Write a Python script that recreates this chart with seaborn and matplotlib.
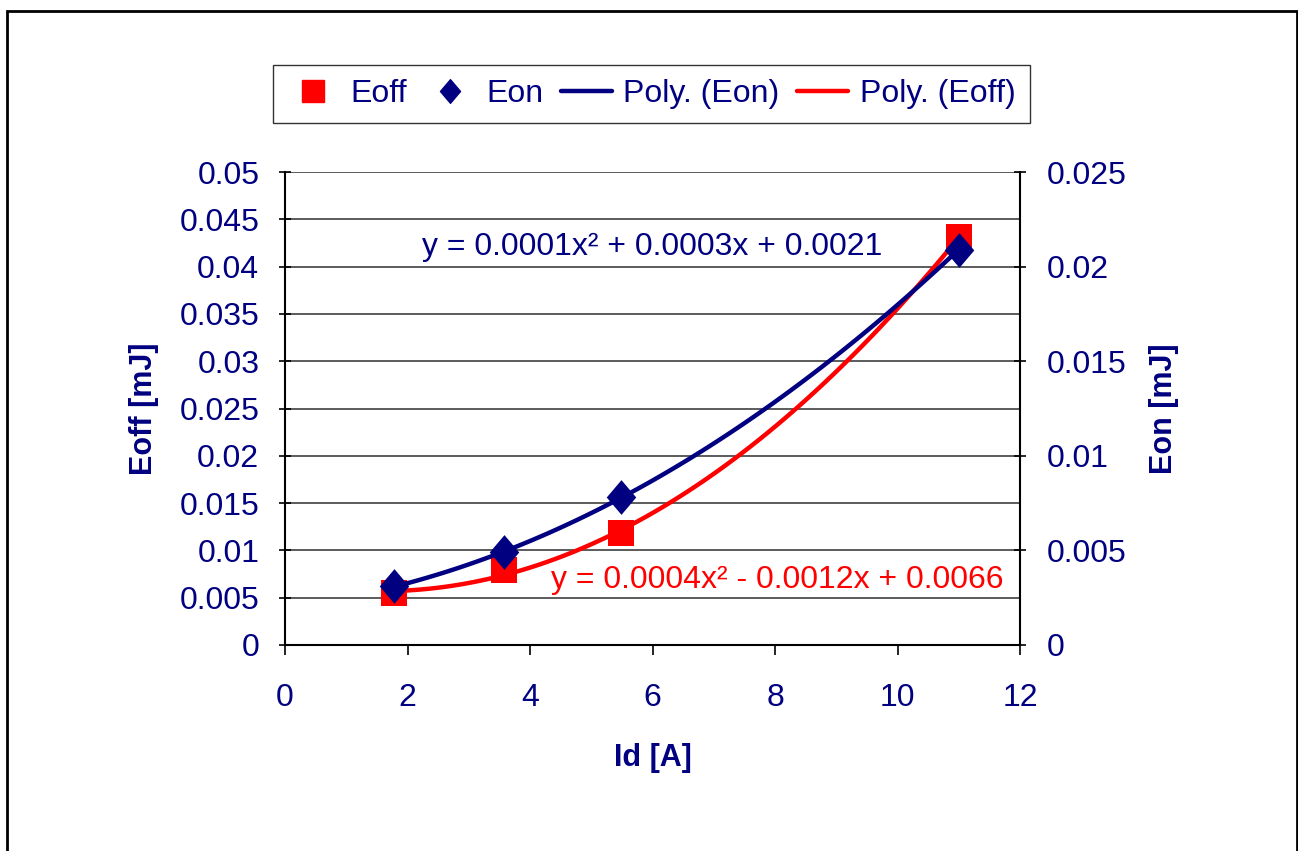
import numpy as np
import pandas as pd
import matplotlib
matplotlib.use("Agg")
import matplotlib.pyplot as plt
from matplotlib.patches import Rectangle
from matplotlib.lines import Line2D
from matplotlib.path import Path
import seaborn as sns

# ---- data ----
id_a = [1.78, 3.58, 5.48, 11.0]
eoff = [0.0055, 0.0079, 0.0118, 0.0431]
eon = [0.0031, 0.0049, 0.0078, 0.0209]
left_ticks = [0, 0.005, 0.01, 0.015, 0.02, 0.025, 0.03, 0.035, 0.04, 0.045, 0.05]
left_ticklabels = ["0", "0.005", "0.01", "0.015", "0.02", "0.025", "0.03", "0.035", "0.04", "0.045", "0.05"]
right_ticks = [0, 0.005, 0.01, 0.015, 0.02, 0.025]
right_ticklabels = ["0", "0.005", "0.01", "0.015", "0.02", "0.025"]
x_ticks = [0, 2, 4, 6, 8, 10, 12]
eq_eon = "y = 0.0001x² + 0.0003x + 0.0021"
eq_eoff = "y = 0.0004x² - 0.0012x + 0.0066"

df = pd.DataFrame({"Id": id_a, "Eoff": eoff, "Eon": eon})

sns.set_theme(style="white")
plt.rcParams["font.family"] = ["Liberation Sans", "DejaVu Sans"]

NAVY = "#000080"
RED = "#FF0000"
FS = 23
LFS = 22

fig = plt.figure(figsize=(12.98, 8.51), dpi=100)
fig.patch.set_facecolor("white")
ax = fig.add_axes([285 / 1298, 1 - 645 / 851, (1020 - 285) / 1298, (645 - 172) / 851])
ax2 = ax.twinx()

diamond = Path([(-0.85, 0), (0, 1), (0.85, 0), (0, -1), (-0.85, 0)],
               [Path.MOVETO, Path.LINETO, Path.LINETO, Path.LINETO, Path.CLOSEPOLY])

ax.set_ylim(0, 0.05)
ax.set_xlim(0, 12)
ax2.set_ylim(0, 0.025)
ax.set_yticks(left_ticks)
ax.set_yticklabels(left_ticklabels)
ax2.set_yticks(right_ticks)
ax2.set_yticklabels(right_ticklabels)
ax.set_xticks(x_ticks)
ax.set_xticklabels([str(t) for t in x_ticks])
ax.yaxis.grid(True, color="#404040", lw=1.2)
ax.xaxis.grid(False)
ax.set_axisbelow(True)

# Eoff on primary
sns.scatterplot(data=df, x="Id", y="Eoff", ax=ax, marker="s", s=19 ** 2,
                color=RED, edgecolor=RED, linewidth=0, zorder=3, legend=False)
sns.regplot(data=df, x="Id", y="Eoff", ax=ax, order=2, ci=None, scatter=False,
            line_kws={"color": RED, "lw": 3.2, "zorder": 4})

# Eon on secondary
sns.scatterplot(data=df, x="Id", y="Eon", ax=ax2, marker=diamond, s=25 ** 2,
                color=NAVY, edgecolor=NAVY, linewidth=0, zorder=3, legend=False)
sns.regplot(data=df, x="Id", y="Eon", ax=ax2, order=2, ci=None, scatter=False,
            line_kws={"color": NAVY, "lw": 3.2, "zorder": 4})

ax.set_ylim(0, 0.05)
ax.set_xlim(0, 12)
ax2.set_ylim(0, 0.025)

# spines
for a in (ax, ax2):
    for s in a.spines.values():
        s.set_visible(False)
ax.spines["left"].set_visible(True)
ax.spines["left"].set_color("black")
ax.spines["left"].set_linewidth(1.5)
ax.spines["bottom"].set_visible(True)
ax.spines["bottom"].set_color("black")
ax.spines["bottom"].set_linewidth(1.5)
ax2.spines["right"].set_visible(True)
ax2.spines["right"].set_color("black")
ax2.spines["right"].set_linewidth(1.5)

ax.tick_params(axis="y", left=True, direction="inout", length=9, width=1.2,
               colors="black", labelcolor=NAVY, labelsize=FS, pad=14)
ax.tick_params(axis="x", bottom=True, direction="out", length=7, width=1.2,
               colors="black", labelcolor=NAVY, labelsize=FS, pad=20)
ax2.tick_params(axis="y", right=True, direction="inout", length=9, width=1.2,
                colors="black", labelcolor=NAVY, labelsize=FS, pad=15)

ax.set_xlabel("Id [A]", color=NAVY, fontsize=LFS, fontweight="bold", labelpad=22)
ax.set_ylabel("Eoff [mJ]", color=NAVY, fontsize=LFS, fontweight="bold", labelpad=15)
ax2.set_ylabel("Eon [mJ]", color=NAVY, fontsize=LFS, fontweight="bold", labelpad=16)

# trendline equations
ax.text(6.0, 0.0421, eq_eon, color=NAVY, fontsize=FS, ha="center", va="center", zorder=5)
ax.text(8.03, 0.00685, eq_eoff, color=RED, fontsize=FS, ha="center", va="center", zorder=5)

# legend
handles = [
    Line2D([], [], ls="none", marker="s", ms=16, color=RED, mec=RED),
    Line2D([], [], ls="none", marker=diamond, ms=17, color=NAVY, mec=NAVY),
    Line2D([], [], color=NAVY, lw=3.2),
    Line2D([], [], color=RED, lw=3.2),
]
labels = ["Eoff", "Eon", "Poly. (Eon)", "Poly. (Eoff)"]
leg = fig.legend(handles, labels, loc="center", bbox_to_anchor=(651.5 / 1298, 1 - 94 / 851),
                 ncol=4, frameon=True, fancybox=False, edgecolor="black", fontsize=FS,
                 handlelength=1.6, handletextpad=0.35, columnspacing=0.55, borderpad=0.45,
                 borderaxespad=0)
for t in leg.get_texts():
    t.set_color(NAVY)
leg.get_frame().set_linewidth(1.0)

# outer border
fig.add_artist(Rectangle((7 / 1298, -0.02), (1297 - 7) / 1298, 1 - 11 / 851 + 0.02,
                         transform=fig.transFigure, fill=False, edgecolor="black", lw=2))

fig.savefig("out.png", dpi=100)
